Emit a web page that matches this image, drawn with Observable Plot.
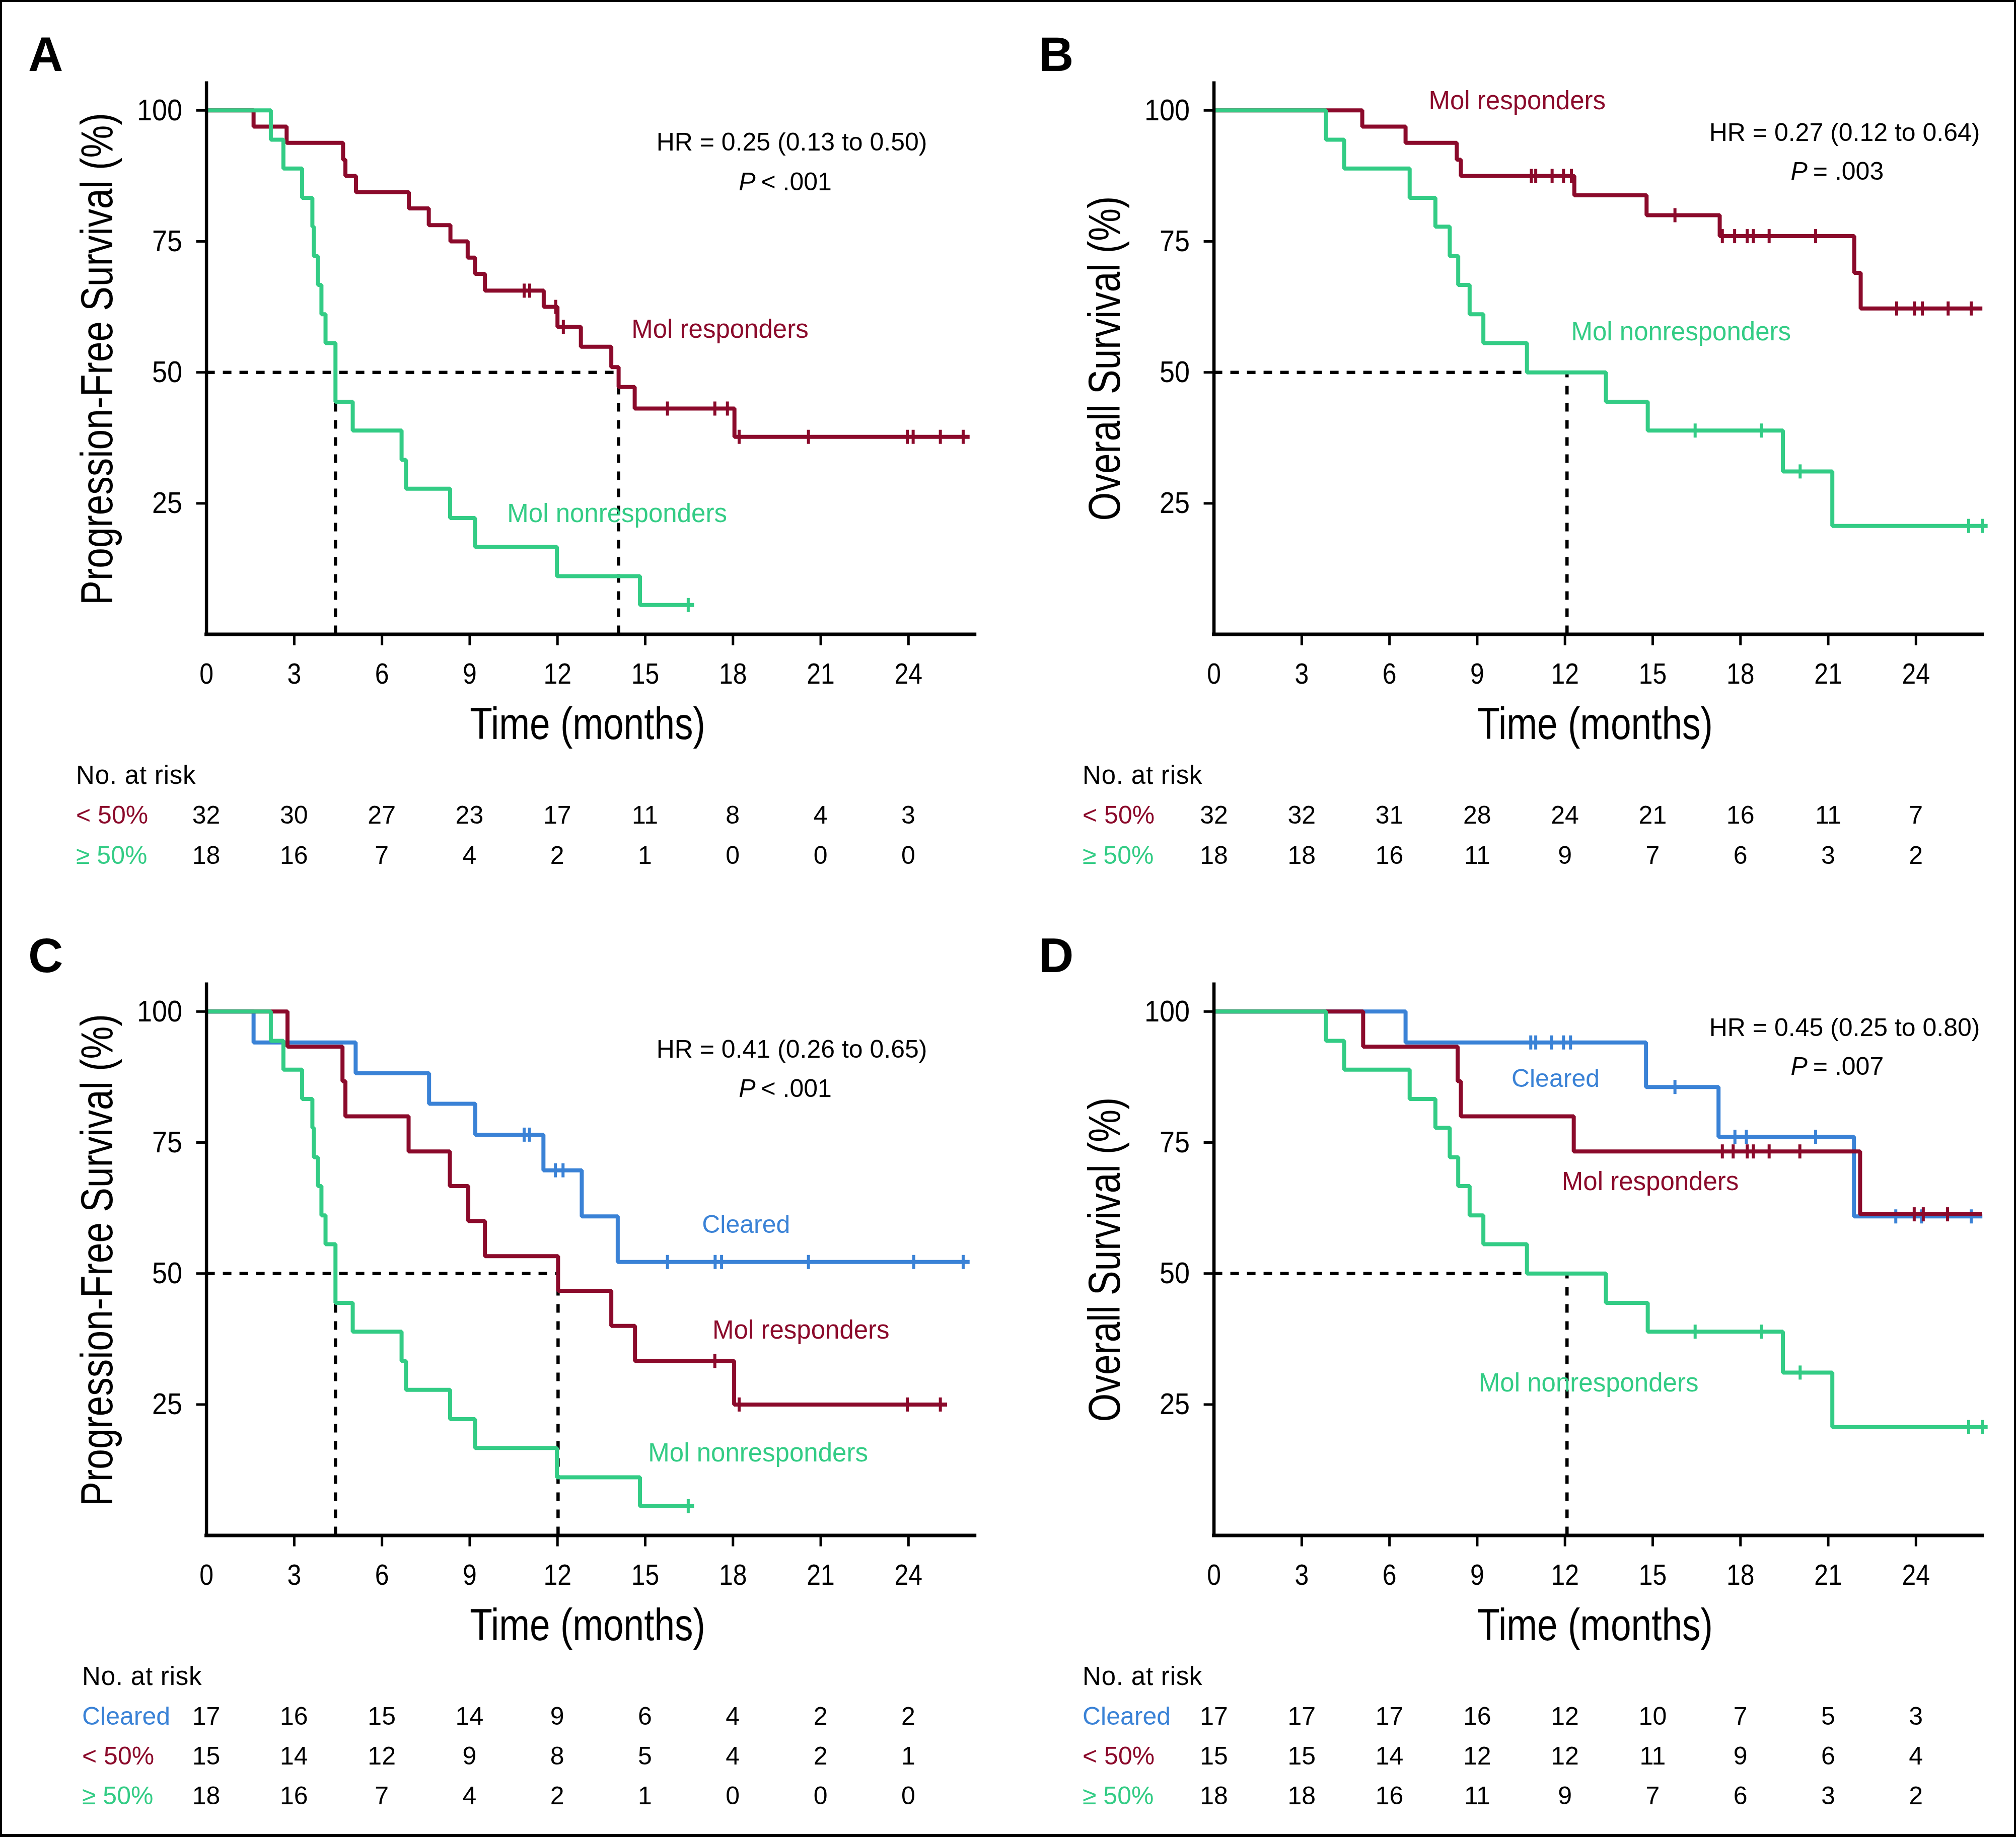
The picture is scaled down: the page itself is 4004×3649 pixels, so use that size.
<!DOCTYPE html>
<html><head><meta charset="utf-8">
<script src="https://cdn.jsdelivr.net/npm/d3@7"></script>
<script src="https://cdn.jsdelivr.net/npm/@observablehq/plot@0.6"></script>
<style>
html,body{margin:0;padding:0;background:#fff;}
#page{position:relative;width:4004px;height:3649px;overflow:hidden;background:#fff;}
#frame{position:absolute;left:0;top:0;width:4004px;height:3649px;box-sizing:border-box;border:4px solid #000;border-bottom-width:6px;pointer-events:none;}
.panel{position:absolute;}
</style></head><body><div id="page"></div>
<script>
// ---------------- data ----------------
const months = [0, 3, 6, 9, 12, 15, 18, 21, 24];
const yTickValues = [25, 50, 75, 100];

// Panel A (PFS) – Mol responders (<50%)
const A_red_t = [1.61, 2.74, 4.67, 4.75, 5.11, 6.92, 7.60, 8.34, 8.93, 9.18, 9.52, 11.53, 12.00, 12.80, 13.84, 14.09, 14.64, 18.05];
const A_red_s = [96.9, 93.8, 90.6, 87.5, 84.4, 81.3, 78.1, 75.0, 71.9, 68.8, 65.6, 62.5, 58.7, 54.9, 51.0, 47.2, 43.1, 37.7];
const A_red_c = [10.86, 11.05, 11.94, 12.20, 15.76, 17.38, 17.81, 18.21, 20.58, 23.96, 24.16, 25.09, 25.87];
const A_red_end = 26.09;
// Panel A – Mol nonresponders (>=50%)
const A_green_t = [2.20, 2.63, 3.27, 3.62, 3.67, 3.81, 3.93, 4.07, 4.41, 5.00, 6.67, 6.82, 8.33, 9.18, 11.98, 14.82];
const A_green_s = [94.4, 88.9, 83.3, 77.8, 72.2, 66.7, 61.1, 55.6, 44.4, 38.9, 33.3, 27.8, 22.2, 16.7, 11.1, 5.6];
const A_green_c = [16.47];
const A_green_end = 16.67;

// Panel B (OS) – Mol responders
const B_red_t = [5.07, 6.55, 8.30, 8.44, 12.32, 14.79, 17.29, 21.89, 22.11];
const B_red_s = [96.9, 93.8, 90.6, 87.5, 83.8, 80.0, 76.0, 69.0, 62.2];
const B_red_c = [10.85, 11.00, 11.56, 11.95, 12.22, 15.76, 17.38, 17.80, 18.23, 18.44, 18.98, 20.57, 23.34, 23.95, 24.22, 25.10, 25.89];
const B_red_end = 26.27;
// Panel B – Mol nonresponders
const B_green_t = [3.83, 4.45, 6.69, 7.57, 8.06, 8.35, 8.74, 9.21, 10.70, 13.40, 14.83, 19.45, 21.14];
const B_green_s = [94.4, 88.9, 83.3, 77.8, 72.2, 66.7, 61.1, 55.6, 50.0, 44.4, 38.9, 31.1, 20.7];
const B_green_c = [16.45, 18.72, 20.04, 25.80, 26.27];
const B_green_end = 26.45;

// Panel C (PFS) – Cleared
const C_blue_t = [1.61, 5.10, 7.61, 9.19, 11.52, 12.83, 14.06];
const C_blue_s = [94.1, 88.2, 82.4, 76.5, 69.7, 60.9, 52.2];
const C_blue_c = [10.86, 11.04, 11.93, 12.19, 15.76, 17.39, 17.61, 20.58, 24.18, 25.87];
const C_blue_end = 26.09;
// Panel C – Mol responders
const C_red_t = [2.77, 4.65, 4.75, 6.91, 8.32, 8.95, 9.52, 12.02, 13.84, 14.65, 18.04];
const C_red_s = [93.3, 86.7, 80.0, 73.3, 66.7, 60.0, 53.3, 46.7, 40.0, 33.3, 25.0];
const C_red_c = [17.38, 18.21, 23.96, 25.09];
const C_red_end = 25.32;
// Panel C – Mol nonresponders
const C_green_t = [2.20, 2.63, 3.27, 3.62, 3.67, 3.81, 3.93, 4.07, 4.41, 5.00, 6.67, 6.82, 8.33, 9.18, 11.98, 14.82];
const C_green_s = [94.4, 88.9, 83.3, 77.8, 72.2, 66.7, 61.1, 55.6, 44.4, 38.9, 33.3, 27.8, 22.2, 16.7, 11.1, 5.6];
const C_green_c = [16.47];
const C_green_end = 16.67;

// Panel D (OS) – Cleared
const D_blue_t = [6.55, 14.77, 17.25, 21.88];
const D_blue_s = [94.1, 85.6, 76.1, 60.9];
const D_blue_c = [10.83, 11.00, 11.54, 11.95, 12.19, 15.76, 17.81, 18.20, 20.57, 23.31, 24.19, 25.89];
const D_blue_end = 26.27;
// Panel D – Mol responders
const D_red_t = [5.10, 8.33, 8.44, 12.30, 22.09];
const D_red_s = [93.3, 86.7, 80.0, 73.3, 61.3];
const D_red_c = [17.38, 17.75, 18.23, 18.44, 18.98, 20.03, 23.94, 24.25, 25.08];
const D_red_end = 26.25;
// Panel D – Mol nonresponders
const D_green_t = [3.83, 4.45, 6.69, 7.57, 8.06, 8.35, 8.74, 9.21, 10.70, 13.40, 14.83, 19.45, 21.14];
const D_green_s = [94.4, 88.9, 83.3, 77.8, 72.2, 66.7, 61.1, 55.6, 50.0, 44.4, 38.9, 31.1, 20.7];
const D_green_c = [16.45, 18.72, 20.04, 25.80, 26.27];
const D_green_end = 26.45;

// Medians
const A_median_h = 14.09, A_median_v = [4.41, 14.09];
const B_median_h = 10.70, B_median_v = [12.07];
const C_median_h = 12.02, C_median_v = [4.41, 12.02];
const D_median_h = 10.70, D_median_v = [12.07];

// Numbers at risk
const riskA_lt50 = [32, 30, 27, 23, 17, 11, 8, 4, 3];
const riskA_ge50 = [18, 16, 7, 4, 2, 1, 0, 0, 0];
const riskB_lt50 = [32, 32, 31, 28, 24, 21, 16, 11, 7];
const riskB_ge50 = [18, 18, 16, 11, 9, 7, 6, 3, 2];
const riskC_cleared = [17, 16, 15, 14, 9, 6, 4, 2, 2];
const riskC_lt50 = [15, 14, 12, 9, 8, 5, 4, 2, 1];
const riskC_ge50 = [18, 16, 7, 4, 2, 1, 0, 0, 0];
const riskD_cleared = [17, 17, 17, 16, 12, 10, 7, 5, 3];
const riskD_lt50 = [15, 15, 14, 12, 12, 11, 9, 6, 4];
const riskD_ge50 = [18, 18, 16, 11, 9, 7, 6, 3, 2];

// Texts
const hrA = "HR = 0.25 (0.13 to 0.50)", pA = "< .001";
const hrB = "HR = 0.27 (0.12 to 0.64)", pB = "= .003";
const hrC = "HR = 0.41 (0.26 to 0.65)", pC = "< .001";
const hrD = "HR = 0.45 (0.25 to 0.80)", pD = "= .007";

// ---------------- styles / layout ----------------
const RED = "#8b0a2b", GREEN = "#33cc85", BLUE = "#3a82d6";
const SANS = "'Liberation Sans',Arial,Helvetica,sans-serif";
const xMax = 26.27, yAxisTop = 105.2;
const W = 2002, H = 1400;
const M = {top: 218.8, right: 66.3, bottom: 140.4, left: 409.6};

const tickSymbol = {draw(ctx) { ctx.moveTo(0, -14); ctx.lineTo(0, 14); }};

function kmPoints(times, surv, end) {
  const pts = [{t: 0, s: 100}];
  times.forEach((t, i) => pts.push({t, s: surv[i]}));
  pts.push({t: end, s: surv[surv.length - 1]});
  return pts;
}
function censorPoints(times, surv, cens) {
  return cens.map(c => {
    let s = 100;
    times.forEach((t, i) => { if (t <= c) s = surv[i]; });
    return {t: c, s};
  });
}

const panels = [
  {
    id: "A", off: [0, 0], ylab: "Progression-Free Survival (%)",
    series: [
      {color: RED, t: A_red_t, s: A_red_s, c: A_red_c, end: A_red_end},
      {color: GREEN, t: A_green_t, s: A_green_s, c: A_green_c, end: A_green_end}
    ],
    medH: A_median_h, medV: A_median_v,
    hr: {x: 20.01, y: 93.9, text: hrA}, p: {x: 18.77, y: 86.3, text: pA},
    labels: [
      {x: 14.53, y: 58.2, text: "Mol responders", color: RED},
      {x: 10.28, y: 23.0, text: "Mol nonresponders", color: GREEN}
    ],
    letter: [56, 141], ylabPos: [223, 713], xlabPos: [1167, 1468],
    risk: {x: 151, header: 1557, rows: [
      {label: "< 50%", color: RED, values: riskA_lt50, base: 1636},
      {label: "≥ 50%", color: GREEN, values: riskA_ge50, base: 1716}
    ]}
  },
  {
    id: "B", off: [2001.4, 0], ylab: "Overall Survival (%)",
    series: [
      {color: RED, t: B_red_t, s: B_red_s, c: B_red_c, end: B_red_end},
      {color: GREEN, t: B_green_t, s: B_green_s, c: B_green_c, end: B_green_end}
    ],
    medH: B_median_h, medV: B_median_v,
    hr: {x: 21.56, y: 95.7, text: hrB}, p: {x: 20.29, y: 88.3, text: pB},
    labels: [
      {x: 7.34, y: 101.8, text: "Mol responders", color: RED},
      {x: 12.21, y: 57.7, text: "Mol nonresponders", color: GREEN}
    ],
    letter: [2063, 141], ylabPos: [2224, 712], xlabPos: [3168, 1468],
    risk: {x: 2150, header: 1557, rows: [
      {label: "< 50%", color: RED, values: riskB_lt50, base: 1636},
      {label: "≥ 50%", color: GREEN, values: riskB_ge50, base: 1716}
    ]}
  },
  {
    id: "C", off: [0, 1789.5], ylab: "Progression-Free Survival (%)",
    series: [
      {color: BLUE, t: C_blue_t, s: C_blue_s, c: C_blue_c, end: C_blue_end},
      {color: RED, t: C_red_t, s: C_red_s, c: C_red_c, end: C_red_end},
      {color: GREEN, t: C_green_t, s: C_green_s, c: C_green_c, end: C_green_end}
    ],
    medH: C_median_h, medV: C_median_v,
    hr: {x: 20.01, y: 92.7, text: hrC}, p: {x: 18.77, y: 85.2, text: pC},
    labels: [
      {x: 16.94, y: 59.3, text: "Cleared", color: BLUE},
      {x: 17.30, y: 39.1, text: "Mol responders", color: RED},
      {x: 15.10, y: 15.75, text: "Mol nonresponders", color: GREEN}
    ],
    letter: [56, 1931], ylabPos: [223, 2503], xlabPos: [1167, 3258],
    risk: {x: 163, header: 3347, rows: [
      {label: "Cleared", color: BLUE, values: riskC_cleared, base: 3426},
      {label: "< 50%", color: RED, values: riskC_lt50, base: 3505},
      {label: "≥ 50%", color: GREEN, values: riskC_ge50, base: 3584}
    ]}
  },
  {
    id: "D", off: [2001.4, 1789.5], ylab: "Overall Survival (%)",
    series: [
      {color: BLUE, t: D_blue_t, s: D_blue_s, c: D_blue_c, end: D_blue_end},
      {color: RED, t: D_red_t, s: D_red_s, c: D_red_c, end: D_red_end},
      {color: GREEN, t: D_green_t, s: D_green_s, c: D_green_c, end: D_green_end}
    ],
    medH: D_median_h, medV: D_median_v,
    hr: {x: 21.56, y: 96.9, text: hrD}, p: {x: 20.29, y: 89.5, text: pD},
    labels: [
      {x: 10.17, y: 87.2, text: "Cleared", color: BLUE},
      {x: 11.89, y: 67.5, text: "Mol responders", color: RED},
      {x: 9.05, y: 29.1, text: "Mol nonresponders", color: GREEN}
    ],
    letter: [2063, 1931], ylabPos: [2224, 2502], xlabPos: [3168, 3258],
    risk: {x: 2150, header: 3347, rows: [
      {label: "Cleared", color: BLUE, values: riskD_cleared, base: 3426},
      {label: "< 50%", color: RED, values: riskD_lt50, base: 3505},
      {label: "≥ 50%", color: GREEN, values: riskD_ge50, base: 3584}
    ]}
  }
];

const page = document.getElementById("page");

function condense(sel, factor, mode) {
  sel.each(function() {
    const len = this.getComputedTextLength();
    if (len > 0) {
      this.setAttribute("textLength", (len * factor).toFixed(2));
      this.setAttribute("lengthAdjust", mode || "spacingAndGlyphs");
    }
  });
}

function buildPanel(p) {
  const marks = [
    Plot.ruleY([{y: 50, x1: 0, x2: p.medH}], {y: "y", x1: "x1", x2: "x2", stroke: "#000", strokeWidth: 6.5, strokeDasharray: "17,16"}),
    Plot.ruleX(p.medV.map(x => ({x, y1: 0, y2: 50})), {x: "x", y1: "y1", y2: "y2", stroke: "#000", strokeWidth: 6.5, strokeDasharray: "17,17"})
  ];
  for (const s of p.series) {
    marks.push(Plot.line(kmPoints(s.t, s.s, s.end), {x: "t", y: "s", curve: "step-after", stroke: s.color, strokeWidth: 8, strokeLinejoin: "miter", strokeLinecap: "butt"}));
    marks.push(Plot.dot(censorPoints(s.t, s.s, s.c), {x: "t", y: "s", symbol: tickSymbol, r: 5, fill: "none", stroke: s.color, strokeWidth: 6}));
  }
  const molLabels = p.labels.filter(d => d.text !== "Cleared");
  const clearedLabels = p.labels.filter(d => d.text === "Cleared");
  marks.push(
    Plot.ruleY([{y: 0, x1: 0, x2: xMax}], {y: "y", x1: "x1", x2: "x2", stroke: "#000", strokeWidth: 7, strokeLinecap: "square"}),
    Plot.ruleX([{x: 0, y1: 0, y2: yAxisTop}], {x: "x", y1: "y1", y2: "y2", stroke: "#000", strokeWidth: 6.5, strokeLinecap: "square"}),
    Plot.axisY(yTickValues, {tickSize: 20, tickPadding: 28, strokeWidth: 5, stroke: "#000", fill: "#000", fontSize: 60, fontFamily: SANS, label: null}),
    Plot.axisX(months.slice(1), {tickSize: 22, strokeWidth: 5, stroke: "#000", tickFormat: () => "", label: null}),
    Plot.axisX(months, {tickSize: 0, tickPadding: 57, fill: "#000", fontSize: 58, fontFamily: SANS, label: null}),
    Plot.text(molLabels, {x: "x", y: "y", text: "text", fill: d => d.color, textAnchor: "start", lineAnchor: "middle", fontSize: 51, fontFamily: SANS, ariaLabel: "mol-label"}),
    Plot.text(clearedLabels, {x: "x", y: "y", text: "text", fill: d => d.color, textAnchor: "start", lineAnchor: "middle", fontSize: 50, fontFamily: SANS}),
    Plot.text([p.hr], {x: "x", y: "y", text: "text", fill: "#000", textAnchor: "middle", lineAnchor: "middle", fontSize: 50, fontFamily: SANS}),
    Plot.text([p.p], {x: "x", y: "y", text: () => "P", fill: "#000", textAnchor: "end", lineAnchor: "middle", fontSize: 50, fontFamily: SANS, fontStyle: "italic"}),
    Plot.text([p.p], {x: "x", y: "y", text: "text", fill: "#000", textAnchor: "start", lineAnchor: "middle", dx: 11, fontSize: 50, fontFamily: SANS})
  );
  const chart = Plot.plot({
    width: W, height: H,
    marginTop: M.top, marginRight: M.right, marginBottom: M.bottom, marginLeft: M.left,
    x: {domain: [0, xMax]},
    y: {domain: [0, 100]},
    style: {fontFamily: SANS, fontSize: "58px", color: "#000", background: "transparent", overflow: "visible"},
    marks
  });
  const wrap = document.createElement("div");
  wrap.className = "panel";
  wrap.style.left = p.off[0] + "px";
  wrap.style.top = p.off[1] + "px";
  wrap.appendChild(chart);
  page.appendChild(wrap);
  // condensed tick labels, slightly tracked curve labels (as in the reference)
  condense(d3.select(chart).selectAll('g[aria-label="y-axis tick label"] text'), 0.9);
  condense(d3.select(chart).selectAll('g[aria-label="x-axis tick label"] text'), 0.86);
  condense(d3.select(chart).selectAll('g[aria-label="mol-label"] text'), 1.047, "spacing");
  return chart;
}

const charts = panels.map(buildPanel);

// overlay for titles and risk tables
const overlay = d3.select(page).append("svg")
  .attr("width", 4004).attr("height", 3649)
  .style("position", "absolute").style("left", 0).style("top", 0)
  .style("pointer-events", "none");

panels.forEach((p, i) => {
  const xs = charts[i].scale("x");
  overlay.append("text").attr("x", p.letter[0]).attr("y", p.letter[1])
    .attr("font-family", SANS).attr("font-weight", "bold").attr("font-size", 96).text(p.id);
  const yl = overlay.append("text")
    .attr("transform", `translate(${p.ylabPos[0]},${p.ylabPos[1]}) rotate(-90)`)
    .attr("text-anchor", "middle").attr("font-family", SANS).attr("font-size", 89).text(p.ylab);
  condense(yl, 0.82);
  const xl = overlay.append("text").attr("x", p.xlabPos[0]).attr("y", p.xlabPos[1])
    .attr("text-anchor", "middle").attr("font-family", SANS).attr("font-size", 89).text("Time (months)");
  condense(xl, 0.82);
  const hd = overlay.append("text").attr("x", p.risk.x).attr("y", p.risk.header)
    .attr("font-family", SANS).attr("font-size", 51).text("No. at risk");
  condense(hd, 1.035, "spacing");
  for (const row of p.risk.rows) {
    overlay.append("text").attr("x", p.risk.x).attr("y", row.base)
      .attr("font-family", SANS).attr("font-size", 50).attr("fill", row.color).text(row.label);
    row.values.forEach((v, j) => {
      overlay.append("text").attr("x", p.off[0] + xs.apply(months[j])).attr("y", row.base)
        .attr("text-anchor", "middle").attr("font-family", SANS).attr("font-size", 50).text(v);
    });
  }
});

const frame = document.createElement("div");
frame.id = "frame";
page.appendChild(frame);
</script></body></html>
